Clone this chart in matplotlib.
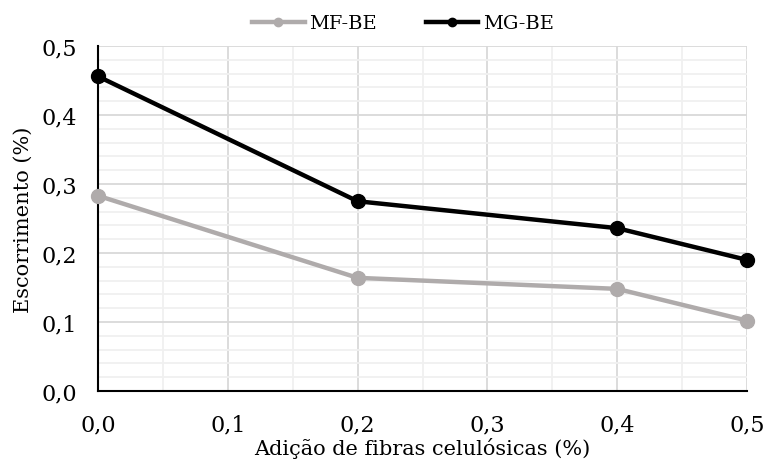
import matplotlib.pyplot as plt
import numpy as np
from matplotlib.ticker import MultipleLocator, FuncFormatter

plt.rcParams['font.family'] = ['DejaVu Serif']

x = [0.0, 0.2, 0.4, 0.5]
mf_be = [0.283, 0.164, 0.148, 0.102]
mg_be = [0.456, 0.275, 0.236, 0.190]

fig = plt.figure(figsize=(7.64, 4.64), dpi=100)
ax = fig.add_axes([98/764, 1 - 392/464, 649/764, 345/464])

ax.plot(x, mf_be, color='#AFABAB', lw=3.2, marker='o', ms=10, label='MF-BE', zorder=3, clip_on=False)
ax.plot(x, mg_be, color='black', lw=3.2, marker='o', ms=10, label='MG-BE', zorder=4, clip_on=False)

ax.set_xlim(0, 0.5)
ax.set_ylim(0, 0.5)
ax.xaxis.set_major_locator(MultipleLocator(0.1))
ax.xaxis.set_minor_locator(MultipleLocator(0.05))
ax.yaxis.set_major_locator(MultipleLocator(0.1))
ax.yaxis.set_minor_locator(MultipleLocator(0.02))
fmt = FuncFormatter(lambda v, p: f'{v:.1f}'.replace('.', ','))
ax.xaxis.set_major_formatter(fmt)
ax.yaxis.set_major_formatter(fmt)

ax.grid(which='major', color='#D9D9D9', lw=1.3)
ax.grid(which='minor', color='#F0F0F0', lw=1.3)
ax.set_axisbelow(True)

for s in ['top', 'right']:
    ax.spines[s].set_visible(False)
for s in ['left', 'bottom']:
    ax.spines[s].set_color('black')
    ax.spines[s].set_linewidth(1.5)
ax.tick_params(which='both', length=0, labelsize=16)
ax.tick_params(axis='x', pad=16)
ax.tick_params(axis='y', pad=15)

ax.set_xlabel('Adição de fibras celulósicas (%)', fontsize=15, labelpad=1)
ax.set_ylabel('Escorrimento (%)', fontsize=15, labelpad=6)

ax.legend(loc='lower center', bbox_to_anchor=(0.47, 1.0), ncol=2, frameon=False,
          fontsize=14, handlelength=2.7, handletextpad=0.25, markerscale=0.6,
          columnspacing=2.5, borderaxespad=0.3)

fig.savefig('out.png', dpi=100)
